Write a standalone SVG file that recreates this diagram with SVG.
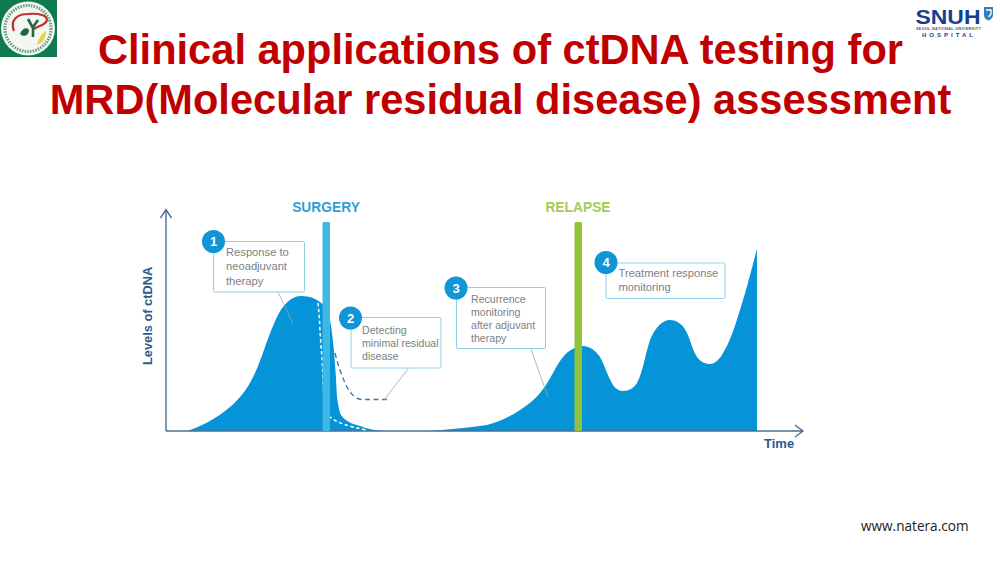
<svg xmlns="http://www.w3.org/2000/svg" width="1000" height="563" viewBox="0 0 1000 563">
<style>
text{font-family:"Liberation Sans",Arial,sans-serif}
.title{font-size:41.6px;font-weight:700;fill:#c00000;text-anchor:middle}
.lbl{font-size:11.2px;fill:#7b7f84}
.sm{font-size:10.6px}
.box{fill:#fff;stroke:#8fcfe6;stroke-width:1}
.badge{fill:#0f95d8}
.num{font-size:13px;font-weight:700;fill:#fff;text-anchor:middle}
.lead{fill:none;stroke:#a0a4a8;stroke-width:.8}
.axis{fill:none;stroke:#4a6f96;stroke-width:1.4}
.head{font-size:13.8px;font-weight:700}
</style>
<rect width="1000" height="563" fill="#fff"/>
<g id="logo-left">
<rect x="0" y="0" width="57" height="57" fill="#0f7a4f"/>
<circle cx="28" cy="28.500" r="27" fill="#f4f6f1"/>
<circle cx="28" cy="28.500" r="23" fill="none" stroke="#2f7d5c" stroke-width="3" stroke-dasharray="1.500 1.200" opacity=".75"/>
<path d="M14 31C10 21 16 14 28 14C38 13 47 15 47 20C46 25 38 26 34 29" fill="none" stroke="#b8342e" stroke-width="2.200"/>
<path d="M33 37V26M33 28L28 19M33 27L38 20" fill="none" stroke="#1e6b42" stroke-width="2.600"/>
<path d="M20 34C22 28 27 27 29 30C29 35 24 38 20 34Z" fill="#1e6b42"/>
<path d="M37 45C38 39 41 34 46 31C46 38 43 43 37 45Z" fill="#ecd24a"/>
</g>
<g id="logo-right">
<text x="915.500" y="24" font-size="20" font-weight="700" fill="#16408f" textLength="65" lengthAdjust="spacingAndGlyphs">SNUH</text>
<path d="M984 7H993V15C993 18 990 20 988.500 20.500C986 20 984 18 984 15Z" fill="#2c7fc0"/>
<path d="M986 10H991V14L988.500 17" fill="none" stroke="#fff" stroke-width="1.300"/>
<text x="916" y="30" font-size="3.800" font-weight="700" fill="#555" textLength="65" lengthAdjust="spacing">SEOUL NATIONAL UNIVERSITY</text>
<text x="922" y="37" font-size="6" font-weight="700" fill="#16408f" textLength="51" lengthAdjust="spacing">HOSPITAL</text>
</g>
<g id="title">
<text class="title" x="500.500" y="64">Clinical applications of ctDNA testing for</text>
<text class="title" x="500.500" y="114">MRD(Molecular residual disease) assessment</text>
</g>
<g id="curve">
<path fill="#0694d8" d="M187 431C200 427 216 419 230 407C244 395 251 383 258 366C264 351 269 334 276 319C283 304 291 296 302 296C309 296 315 298 320 302C325 306 328 312 330 320C333 335 336 370 337 397C338 404 339 409 340 413C343 419 349 423 357 425C365 428 372 430 382 431Z"/>
<path fill="#0694d8" d="M430 431C442 430 452 429 463 428C472 427 480 426 487 425C498 422 510 417 520 410C528 405 535 399 540 393C546 386 550 378 553 373C556 367 559 362 563 357C569 350 576 346 583 346C590 346 596 351 600 357C605 366 608 377 613 385C616 389 619 391 623 391C629 391 634 388 637 383C643 372 645 355 650 340C655 328 662 320 670 320C678 320 684 326 687 333C691 342 693 351 697 357C701 362 705 364 710 364C715 364 720 359 723 353C730 342 735 326 740 310C746 291 752 268 757 249V431Z"/>
</g>
<g id="connectors">
<path class="axis" d="M166 431V210M160.500 218L166 209.500L171.500 218"/>
<path class="axis" d="M166 431H802M795 425L803 431L795 437"/>
<path d="M318 303C320 320 320 340 322 357C323 375 323 392 325 403C326 410 327 414 330 417C337 423 348 426 366 430" fill="none" stroke="#fff" stroke-width="1.500" stroke-dasharray="3.500 2.500"/>
<path d="M335 353C338 365 342 377 347 387C351 394 355 399 362 399.500H390" fill="none" stroke="#2a7fb5" stroke-width="1.400" stroke-dasharray="5 3.500"/>
<path class="lead" d="M273 283C280 296 288 312 293 324"/>
<path class="lead" d="M414 361L384 400"/>
<path class="lead" d="M528 341L548 397"/>
</g>
<g id="surgery">
<rect x="322.500" y="222" width="7.500" height="209" rx="1.500" fill="#3db7e4"/>
<text class="head" x="326" y="211.500" text-anchor="middle" fill="#2f9fd6">SURGERY</text>
</g>
<g id="relapse">
<rect x="574.500" y="222" width="7.500" height="209" rx="1.500" fill="#8fc33a"/>
<text class="head" x="578" y="211.500" text-anchor="middle" fill="#a4cc55">RELAPSE</text>
</g>
<g id="step-1">
<rect class="box" x="213.500" y="241.500" width="91" height="50.500" rx="1.500"/>
<circle class="badge" cx="213.500" cy="241.500" r="11.500"/>
<text class="num" x="213.500" y="246">1</text>
<text class="lbl" x="226" y="256">Response to</text>
<text class="lbl" x="226" y="270">neoadjuvant</text>
<text class="lbl" x="226" y="284.500">therapy</text>
</g>
<g id="step-2">
<rect class="box" x="351" y="317.500" width="90" height="50.500" rx="1.500"/>
<circle class="badge" cx="350.500" cy="318" r="11.500"/>
<text class="num" x="350.500" y="322.500">2</text>
<text class="lbl sm" x="362" y="333.500">Detecting</text>
<text class="lbl sm" x="362" y="346.500">minimal residual</text>
<text class="lbl sm" x="362" y="360">disease</text>
</g>
<g id="step-3">
<rect class="box" x="456.500" y="287.500" width="89" height="61" rx="1.500"/>
<circle class="badge" cx="456" cy="288" r="11.500"/>
<text class="num" x="456" y="292.500">3</text>
<text class="lbl sm" x="471" y="302.500">Recurrence</text>
<text class="lbl sm" x="471" y="315.500">monitoring</text>
<text class="lbl sm" x="471" y="328.500">after adjuvant</text>
<text class="lbl sm" x="471" y="341.500">therapy</text>
</g>
<g id="step-4">
<rect class="box" x="606" y="263" width="119" height="35.500" rx="1.500"/>
<circle class="badge" cx="606" cy="262.500" r="11.500"/>
<text class="num" x="606" y="267">4</text>
<text class="lbl" x="618.500" y="276.500">Treatment response</text>
<text class="lbl" x="618.500" y="290.500">monitoring</text>
</g>
<text id="y-label" transform="translate(151.500 365) rotate(-90)" font-size="12.800" font-weight="700" fill="#2c5b8c">Levels of ctDNA</text>
<text id="x-label" x="764" y="448" font-size="13" font-weight="700" fill="#2c5b8c">Time</text>
<text id="source" x="861" y="531" font-size="13.600" fill="#222" style="font-family:'Open Sans',sans-serif">www.natera.com</text>
</svg>
